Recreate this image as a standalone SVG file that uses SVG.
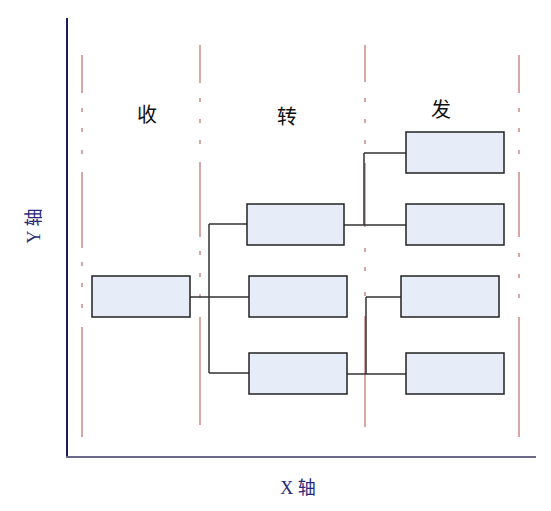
<svg xmlns="http://www.w3.org/2000/svg" width="551" height="511" viewBox="0 0 551 511">
<style>
.bg{fill:#ffffff}
.axis{fill:none;stroke-width:2}
.lane{fill:none;stroke:#d69c9c;stroke-width:1.8}
.box{fill:#e6ecf8;stroke:#222222;stroke-width:1.5}
.conn{fill:none;stroke:#333333;stroke-width:1.5}
.hdr{font-family:"Liberation Sans","Noto Sans CJK SC",sans-serif;font-size:20px;fill:#111111;text-anchor:middle}
.ax{font-family:"Liberation Serif","Noto Sans CJK SC",serif;font-size:18px;fill:#2a2a7a;text-anchor:middle}
</style>
<rect class="bg" x="0" y="0" width="551" height="511"/>
<g id="axes">
<line class="axis" x1="67" y1="18" x2="67" y2="458" stroke="#1e1e5c"/>
<line class="axis" x1="66" y1="457" x2="536" y2="457" stroke="#6c6a8a"/>
</g>
<g id="lanes">
<path class="lane" d="M82 55V93M82 108V112M82 128V132M82 150V154M82 172V248M82 262V266M82 283V287M82 304V308M82 327V437"/>
<path class="lane" d="M200 45V83M200 98V102M200 119V123M200 140V144M200 162V237M200 251V255M200 273V277M200 294V298M200 317V425"/>
<path class="lane" d="M365 45V82M365 98V102M365 119V123M365 140V144M365 163V227M365 248V252M365 267V271M365 292V296M365 316V427"/>
<path class="lane" d="M519 55V93M519 108V112M519 128V132M519 150V154M519 172V237M519 253V257M519 274V278M519 294V298M519 317V437"/>
</g>
<g id="headers">
<text class="hdr" x="147" y="122">收</text>
<text class="hdr" x="287" y="124">转</text>
<text class="hdr" x="441" y="117">发</text>
</g>
<g id="labelY"><text class="ax" x="0" y="0" transform="translate(40,226) rotate(-90)">Y 轴</text></g>
<g id="labelX"><text class="ax" x="298" y="494">X 轴</text></g>
<g id="connectors">
<path class="conn" d="M190 297H209M209 224V373M209 224H247M209 297H249M209 373H249"/>
<path class="conn" d="M344 225H406M364 153V225M364 153H406"/>
<path class="conn" d="M347 374H406M366 297V374M366 297H401"/>
</g>
<g id="n_recv"><rect class="box" x="92" y="276" width="98" height="41"/></g>
<g id="n_mid1"><rect class="box" x="247" y="204" width="97" height="41"/></g>
<g id="n_mid2"><rect class="box" x="249" y="276" width="98" height="41"/></g>
<g id="n_mid3"><rect class="box" x="249" y="353" width="98" height="41"/></g>
<g id="n_out1"><rect class="box" x="406" y="132" width="98" height="41"/></g>
<g id="n_out2"><rect class="box" x="406" y="204" width="98" height="41"/></g>
<g id="n_out3"><rect class="box" x="401" y="276" width="98" height="41"/></g>
<g id="n_out4"><rect class="box" x="406" y="353" width="98" height="41"/></g>
</svg>
